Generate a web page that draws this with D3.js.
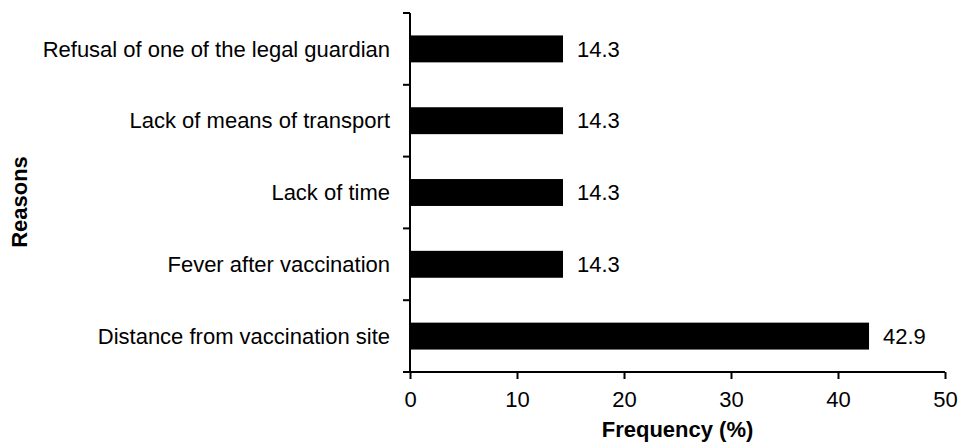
<!DOCTYPE html>
<html>
<head>
<meta charset="utf-8">
<script src="https://cdn.jsdelivr.net/npm/d3@7"></script>
<style>
  body { margin: 0; background: #fff; }
  text { font-family: "Liberation Sans", Arial, sans-serif; }
</style>
</head>
<body>
<svg id="chart" width="960" height="443"></svg>
<script>
// data
const reasons = [
    "Refusal of one of the legal guardian",
    "Lack of means of transport",
    "Lack of time",
    "Fever after vaccination",
    "Distance from vaccination site"
];
const frequency = [14.3, 14.3, 14.3, 14.3, 42.9];
const xTicks = [0, 10, 20, 30, 40, 50];

const plotLeft = 410, plotRight = 945, plotTop = 13, plotBottom = 372;
const fontSize = 22;

const svg = d3.select("#chart");

const x = d3.scaleLinear().domain([0, 50]).range([plotLeft, plotRight]);
const y = d3.scaleBand().domain(reasons).range([plotTop, plotBottom]).paddingInner(0.625).paddingOuter(0.3125);

// bars
svg.append("g")
    .selectAll("rect")
    .data(reasons)
    .join("rect")
    .attr("x", x(0))
    .attr("y", d => y(d))
    .attr("width", (d, i) => x(frequency[i]) - x(0))
    .attr("height", y.bandwidth())
    .attr("fill", "#000");

// value labels
svg.append("g")
    .selectAll("text")
    .data(reasons)
    .join("text")
    .attr("x", (d, i) => x(frequency[i]) + 14)
    .attr("y", d => y(d) + y.bandwidth() / 2)
    .attr("dy", "0.35em")
    .attr("font-size", fontSize)
    .text((d, i) => frequency[i].toFixed(1));

// x axis
const xAxis = svg.append("g")
    .attr("transform", `translate(0, ${plotBottom})`)
    .call(d3.axisBottom(x).tickValues(xTicks).tickSize(7).tickPadding(12).tickSizeOuter(0));
xAxis.select(".domain").attr("stroke-width", 2).attr("d", `M${plotLeft},0H${plotRight}`);
xAxis.selectAll(".tick line").attr("stroke-width", 2);
xAxis.selectAll(".tick text")
    .attr("font-size", fontSize)
    .attr("font-family", "Liberation Sans, Arial, sans-serif")
    .attr("fill", "#000");

// y axis with ticks at band boundaries
const yBounds = d3.range(reasons.length + 1).map(i => plotTop + i * (plotBottom - plotTop) / reasons.length);
const yAxis = svg.append("g");
yAxis.append("line")
    .attr("x1", plotLeft).attr("x2", plotLeft)
    .attr("y1", plotTop).attr("y2", plotBottom)
    .attr("stroke", "#000").attr("stroke-width", 2);
yAxis.selectAll(".ytick")
    .data(yBounds)
    .join("line")
    .attr("class", "ytick")
    .attr("x1", plotLeft - 7).attr("x2", plotLeft)
    .attr("y1", d => d).attr("y2", d => d)
    .attr("stroke", "#000").attr("stroke-width", 2);
yAxis.selectAll(".ylabel")
    .data(reasons)
    .join("text")
    .attr("class", "ylabel")
    .attr("x", plotLeft - 20)
    .attr("y", d => y(d) + y.bandwidth() / 2)
    .attr("dy", "0.35em")
    .attr("text-anchor", "end")
    .attr("font-size", fontSize)
    .text(d => d);

// axis titles
svg.append("text")
    .attr("x", (plotLeft + plotRight) / 2)
    .attr("y", 437)
    .attr("text-anchor", "middle")
    .attr("font-size", fontSize)
    .attr("font-weight", "bold")
    .text("Frequency (%)");

svg.append("text")
    .attr("transform", "translate(27, 202) rotate(-90)")
    .attr("text-anchor", "middle")
    .attr("font-size", fontSize)
    .attr("font-weight", "bold")
    .text("Reasons");
</script>
</body>
</html>
